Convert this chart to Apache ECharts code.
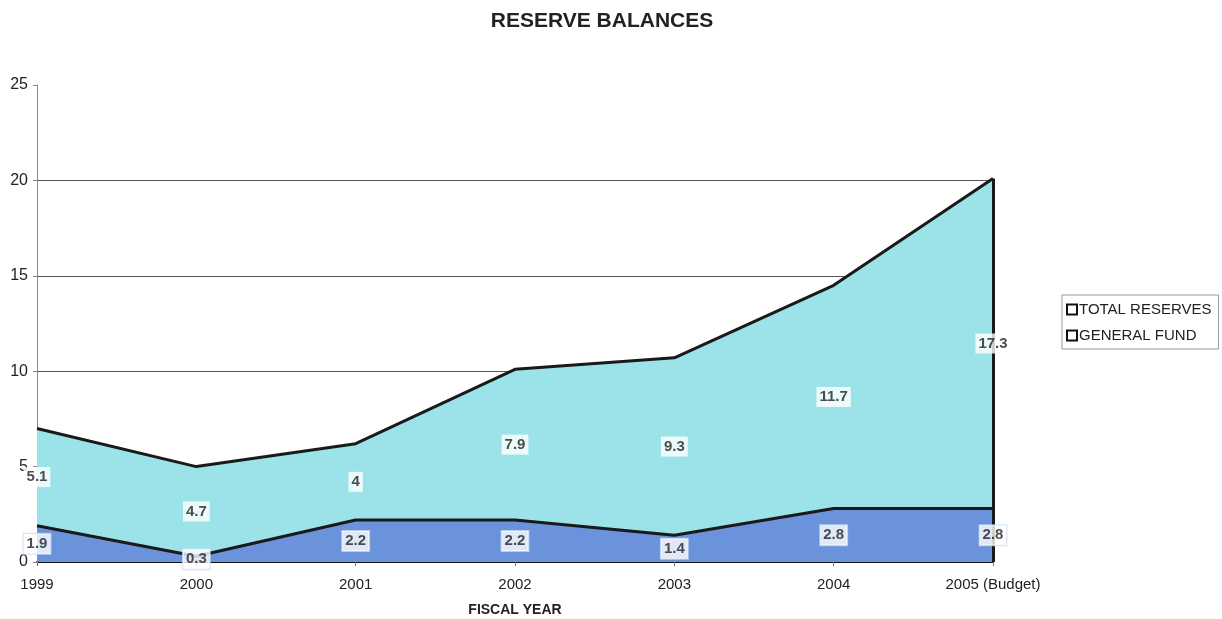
<!DOCTYPE html>
<html>
<head>
<meta charset="utf-8">
<title>Reserve Balances</title>
<script src="https://cdn.jsdelivr.net/npm/echarts@6/dist/echarts.min.js"></script>
<style>
  html, body { margin: 0; padding: 0; background: #ffffff; overflow: hidden; }
  #chart { width: 1222px; height: 619px; }
</style>
</head>
<body>
<div id="chart"></div>
<script>
// Fiscal years on the horizontal axis
const years = ['1999', '2000', '2001', '2002', '2003', '2004', '2005 (Budget)'];
// Balances in millions, stacked: general fund at the bottom, other reserves on top
const generalFund = [1.9, 0.3, 2.2, 2.2, 1.4, 2.8, 2.8];
const totalReserves = [5.1, 4.7, 4, 7.9, 9.3, 11.7, 17.3];
const yTicks = [0, 5, 10, 15, 20, 25];

const FONT = '"Liberation Sans", Arial, sans-serif';

// Label anchors sit at the middle of each band
const gfMid = generalFund.map((v, i) => [i, v / 2, v]);
const trMid = totalReserves.map((v, i) => [i, generalFund[i] + v / 2, v]);
const lastIdx = years.length - 1;
const topLast = generalFund[lastIdx] + totalReserves[lastIdx];

const labelBox = {
  show: true,
  position: 'inside',
  formatter: p => String(p.value[2]),
  color: '#222',
  fontFamily: FONT,
  fontSize: 15,
  fontWeight: 'bold',
  backgroundColor: '#ffffff',
  padding: [3, 3, 2, 3]
};

const chart = echarts.init(document.getElementById('chart'), null, { renderer: 'canvas' });
chart.setOption({
  animation: false,
  backgroundColor: '#ffffff',
  title: {
    text: 'RESERVE BALANCES',
    left: 597,
    textAlign: 'center',
    top: 6,
    textStyle: { fontFamily: FONT, fontSize: 21, fontWeight: 'bold', color: '#222' }
  },
  legend: {
    orient: 'vertical',
    left: 1062,
    top: 295,
    data: ['TOTAL RESERVES', 'GENERAL FUND'],
    icon: 'rect',
    itemWidth: 10,
    itemHeight: 10,
    itemGap: 11,
    padding: [7, 7, 6, 4],
    borderColor: '#999',
    borderWidth: 1,
    textStyle: { fontFamily: FONT, fontSize: 15, color: '#222', padding: [0, 0, 0, -3] }
  },
  grid: { left: 37, right: 229, top: 85, bottom: 57, outerBoundsMode: 'none' },
  xAxis: {
    type: 'category',
    data: years,
    boundaryGap: false,
    name: 'FISCAL YEAR',
    nameLocation: 'middle',
    nameGap: 41,
    nameTextStyle: { fontFamily: FONT, fontSize: 14, fontWeight: 'bold', color: '#222' },
    axisLine: { lineStyle: { color: '#111', width: 2 } },
    axisTick: { show: true, length: 4, lineStyle: { color: '#777' } },
    axisLabel: { fontFamily: FONT, fontSize: 15, color: '#222', margin: 15 },
    splitLine: { show: false }
  },
  yAxis: {
    type: 'value',
    min: yTicks[0],
    max: yTicks[yTicks.length - 1],
    interval: 5,
    axisLine: { show: true, lineStyle: { color: '#888', width: 1 } },
    axisTick: { show: true, length: 4, lineStyle: { color: '#888' } },
    axisLabel: { fontFamily: FONT, fontSize: 16, color: '#222', margin: 9 },
    splitLine: { show: true, showMaxLine: false, lineStyle: { color: '#555', width: 1 } }
  },
  series: [
    {
      name: 'GENERAL FUND',
      type: 'line',
      stack: 'bal',
      data: generalFund,
      symbol: 'none',
      lineStyle: { color: '#1a1a1a', width: 3 },
      areaStyle: { color: '#6b93db', opacity: 1 },
      itemStyle: { color: '#ffffff', borderColor: '#111', borderWidth: 2 },
      z: 3
    },
    {
      name: 'TOTAL RESERVES',
      type: 'line',
      stack: 'bal',
      data: totalReserves,
      symbol: 'none',
      lineStyle: { color: '#1a1a1a', width: 3 },
      areaStyle: { color: '#9be3e8', opacity: 1 },
      itemStyle: { color: '#ffffff', borderColor: '#111', borderWidth: 2 },
      markLine: {
        silent: true,
        symbol: 'none',
        label: { show: false },
        lineStyle: { color: '#1a1a1a', width: 3, type: 'solid' },
        data: [[{ coord: [lastIdx, 0] }, { coord: [lastIdx, topLast] }]]
      },
      z: 2
    },
    {
      name: 'gfLabels',
      type: 'scatter',
      data: gfMid,
      symbolSize: 0,
      label: Object.assign({}, labelBox, { borderColor: '#c9dcf2', borderWidth: 1 }),
      z: 10
    },
    {
      name: 'trLabels',
      type: 'scatter',
      data: trMid,
      symbolSize: 0,
      label: labelBox,
      z: 10
    }
  ]
});
</script>
</body>
</html>
